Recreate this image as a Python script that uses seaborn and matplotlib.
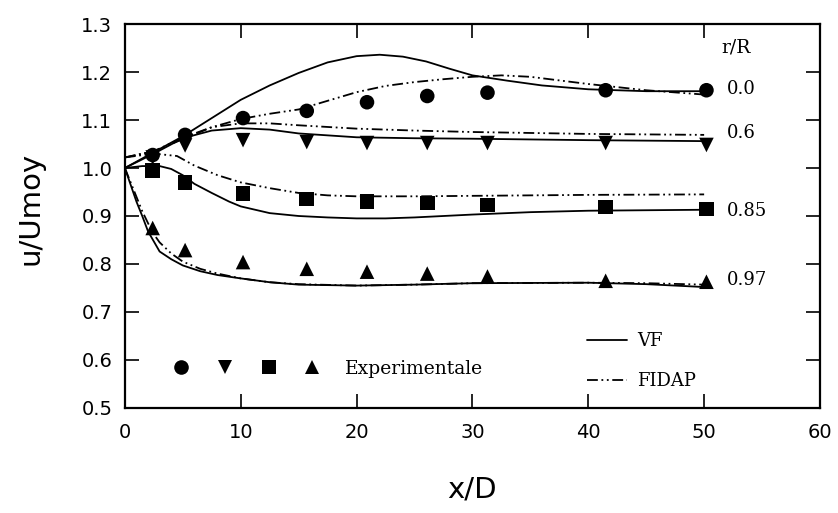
import numpy as np
import pandas as pd
import matplotlib
matplotlib.use("Agg")
import matplotlib.pyplot as plt
import seaborn as sns
from matplotlib.lines import Line2D
from matplotlib.legend_handler import HandlerTuple

# ---------------- data ----------------
r_labels = ["0.0", "0.6", "0.85", "0.97"]
r_label_y = [1.165, 1.072, 0.911, 0.767]

x_exp = [2.4, 5.2, 10.2, 15.7, 20.9, 26.1, 31.3, 41.5, 50.2]
exp_00 = [1.027, 1.069, 1.104, 1.119, 1.137, 1.150, 1.157, 1.162, 1.162]
exp_06 = [1.022, 1.047, 1.058, 1.054, 1.052, 1.052, 1.052, 1.052, 1.048]
exp_085 = [0.995, 0.970, 0.947, 0.935, 0.930, 0.927, 0.923, 0.919, 0.915]
exp_097 = [0.875, 0.829, 0.804, 0.790, 0.784, 0.780, 0.774, 0.765, 0.763]

vf_00_x = [0, 2.5, 5, 7.5, 10, 12.5, 15, 17.5, 20, 22, 24, 26, 28, 30, 33, 36, 40, 45, 50]
vf_00_y = [1.0, 1.033, 1.066, 1.104, 1.142, 1.172, 1.198, 1.220, 1.233, 1.236, 1.232, 1.222, 1.207, 1.193, 1.182, 1.172, 1.164, 1.160, 1.160]
fd_00_x = [0, 2.5, 5, 7.5, 10, 12.5, 15, 17.5, 20, 22.5, 25, 27.5, 30, 32.5, 35, 40, 45, 50]
fd_00_y = [1.022, 1.035, 1.063, 1.085, 1.102, 1.113, 1.122, 1.140, 1.158, 1.171, 1.179, 1.185, 1.190, 1.193, 1.190, 1.175, 1.162, 1.153]

vf_06_x = [0, 2.5, 5, 7.5, 10, 12.5, 15, 20, 25, 30, 40, 50]
vf_06_y = [1.0, 1.030, 1.062, 1.078, 1.083, 1.080, 1.072, 1.064, 1.062, 1.061, 1.058, 1.056]
fd_06_x = [0, 2.5, 5, 7.5, 10, 12.5, 15, 20, 25, 30, 40, 50]
fd_06_y = [1.022, 1.035, 1.060, 1.085, 1.093, 1.093, 1.089, 1.082, 1.078, 1.075, 1.071, 1.069]

vf_085_x = [0, 1.5, 3, 4, 5, 6, 7.5, 9, 10, 12.5, 15, 17.5, 20, 22.5, 25, 30, 35, 40, 50]
vf_085_y = [1.0, 1.004, 1.004, 0.998, 0.985, 0.967, 0.948, 0.930, 0.920, 0.906, 0.900, 0.897, 0.895, 0.895, 0.897, 0.903, 0.908, 0.911, 0.913]
fd_085_x = [0, 2.5, 4.5, 6, 8, 10, 12.5, 15, 17.5, 20, 25, 30, 40, 50]
fd_085_y = [1.022, 1.030, 1.025, 1.005, 0.985, 0.970, 0.958, 0.948, 0.943, 0.941, 0.941, 0.942, 0.944, 0.945]

vf_097_x = [0, 0.5, 1, 1.5, 2, 3, 4, 5, 6.5, 8, 10, 12.5, 15, 20, 25, 30, 40, 45, 50]
vf_097_y = [1.0, 0.965, 0.930, 0.900, 0.868, 0.826, 0.810, 0.797, 0.785, 0.777, 0.770, 0.762, 0.757, 0.755, 0.757, 0.760, 0.761, 0.758, 0.752]
fd_097_x = [0, 0.5, 1, 1.5, 2, 2.5, 3, 4, 5, 6.5, 8, 10, 12.5, 15, 20, 25, 30, 40, 45, 50]
fd_097_y = [1.0, 0.970, 0.940, 0.910, 0.885, 0.862, 0.845, 0.822, 0.805, 0.790, 0.780, 0.770, 0.762, 0.758, 0.755, 0.757, 0.760, 0.761, 0.760, 0.757]

x_ticks = [0, 10, 20, 30, 40, 50, 60]
y_ticks = [0.5, 0.6, 0.7, 0.8, 0.9, 1.0, 1.1, 1.2, 1.3]

# ---------------- frames ----------------
curves = [
    ("VF", "0.0", vf_00_x, vf_00_y), ("FIDAP", "0.0", fd_00_x, fd_00_y),
    ("VF", "0.6", vf_06_x, vf_06_y), ("FIDAP", "0.6", fd_06_x, fd_06_y),
    ("VF", "0.85", vf_085_x, vf_085_y), ("FIDAP", "0.85", fd_085_x, fd_085_y),
    ("VF", "0.97", vf_097_x, vf_097_y), ("FIDAP", "0.97", fd_097_x, fd_097_y),
]
rows = []
for model, r, xs, ys in curves:
    for xv, yv in zip(xs, ys):
        rows.append({"model": model, "r": r, "curve": model + "-" + r, "x": xv, "y": yv})
line_df = pd.DataFrame(rows)

exp_rows = []
for r, ys in zip(r_labels, [exp_00, exp_06, exp_085, exp_097]):
    for xv, yv in zip(x_exp, ys):
        exp_rows.append({"r": r, "x": xv, "y": yv})
exp_df = pd.DataFrame(exp_rows)

# ---------------- plot ----------------
sns.set_style("ticks")
plt.rcParams["font.family"] = ["DejaVu Sans"]
plt.rcParams["text.color"] = "black"
plt.rcParams["axes.labelcolor"] = "black"

fig = plt.figure(figsize=(8.38, 5.13), dpi=100)
ax = fig.add_axes([0.149, 0.2047, 0.8295, 0.7485])

fidap_dash = (6, 2, 1, 2, 1, 2)
curve_names = list(dict.fromkeys(line_df["curve"]))
sns.lineplot(data=line_df, x="x", y="y", hue="curve", style="model",
             palette={c: "black" for c in curve_names},
             dashes={"VF": "", "FIDAP": fidap_dash},
             estimator=None, sort=False, linewidth=1.3, legend=False, ax=ax)

marker_map = {"0.0": "o", "0.6": "v", "0.85": "s", "0.97": "^"}
sns.scatterplot(data=exp_df, x="x", y="y", style="r", markers=marker_map,
                color="black", s=110, linewidth=0, legend=False, ax=ax)

ax.set_xlim(0, 60)
ax.set_ylim(0.5, 1.3)
ax.set_xticks(x_ticks)
ax.set_yticks(y_ticks)
ax.set_yticklabels([f"{v:.1f}" for v in y_ticks])
ax.tick_params(direction="in", length=10, width=1.2, top=True, right=True,
               labelsize=14, colors="black")
ax.tick_params(axis="x", pad=11)
ax.tick_params(axis="y", pad=9)
for sp in ax.spines.values():
    sp.set_visible(True)
    sp.set_linewidth(1.6)
    sp.set_color("black")

ax.set_xlabel("x/D", fontsize=21, color="black")
ax.set_ylabel("u/Umoy", fontsize=21, color="black")
ax.xaxis.set_label_coords(0.499, -0.175)
ax.yaxis.set_label_coords(-0.115, 0.52)

serif = ["DejaVu Serif"]
ax.text(51.5, 1.252, "r/R", family=serif, fontsize=13.5, ha="left", va="center", color="black")
for lab, yv in zip(r_labels, r_label_y):
    ax.text(52.0, yv, lab, family=serif, fontsize=13, ha="left", va="center", color="black")

# legend: experimental markers
mk = [Line2D([], [], linestyle="none", marker=marker_map[r], color="black",
             markeredgewidth=0, markersize=10.5) for r in r_labels]
leg1 = ax.legend([tuple(mk)], ["Experimentale"],
                 handler_map={tuple: HandlerTuple(ndivide=None, pad=0)},
                 loc="center left", bbox_to_anchor=(0.050, 0.102),
                 frameon=False, borderpad=0, borderaxespad=0,
                 handlelength=9.3, handletextpad=0.6,
                 prop={"family": serif, "size": 13.5})
ax.add_artist(leg1)

# legend: models
mh = [Line2D([], [], color="black", linewidth=1.3),
      Line2D([], [], color="black", linewidth=1.3, linestyle=(0, fidap_dash))]
ax.legend(mh, ["VF", "FIDAP"], loc="center left", bbox_to_anchor=(0.665, 0.122),
          frameon=False, borderpad=0, borderaxespad=0, handlelength=2.2,
          handletextpad=0.55, labelspacing=1.25,
          prop={"family": serif, "size": 13})

fig.savefig("out.png", dpi=100)
